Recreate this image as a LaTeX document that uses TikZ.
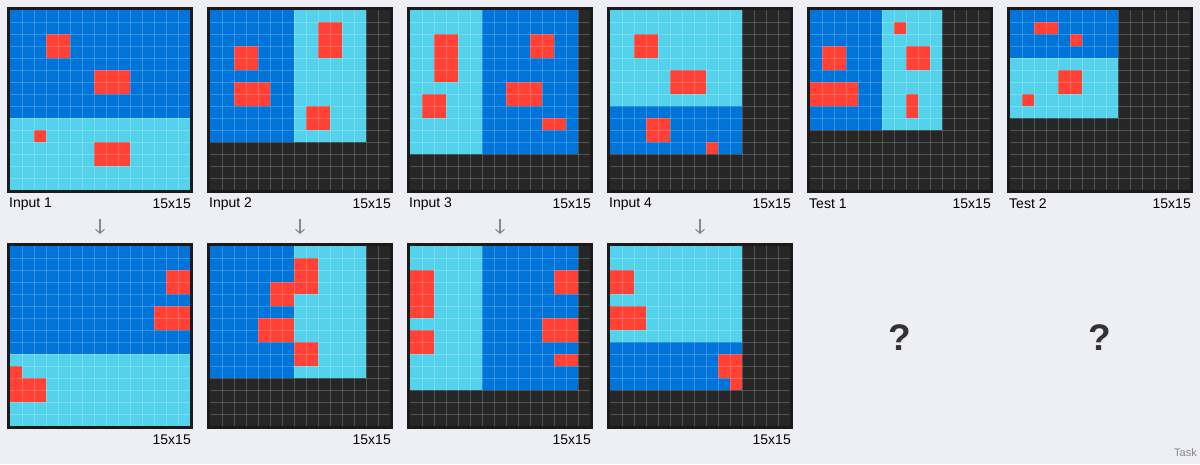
\documentclass[tikz,border=0pt]{standalone}
\usepackage{fontspec}
\setmainfont{Liberation Sans}
\usetikzlibrary{arrows.meta}
\definecolor{bgc}{HTML}{EEEEF5}
\definecolor{arcblue}{HTML}{0074D9}
\definecolor{arccyan}{HTML}{54D2EB}
\definecolor{arcred}{HTML}{FF4136}
\definecolor{arcdark}{HTML}{262626}
\definecolor{framec}{HTML}{1A1A1A}
\definecolor{arrowc}{HTML}{888888}
\definecolor{qc}{HTML}{333333}
\tikzset{
  gl/.style={white, opacity=0.2, line width=0.7pt},
  gframe/.style={framec, line width=2.6pt},
  lbl/.style={font=\fontsize{14pt}{16pt}\selectfont, text=black, inner sep=0pt},
  arr/.style={arrowc, line width=1.1pt, -{Straight Barb[length=4pt,width=9pt]}},
  qmark/.style={font=\bfseries\fontsize{37pt}{40pt}\selectfont, text=qc, inner sep=0pt, anchor=base},
}
% cell block: originx originy col row w h color
\newcommand\gblk[7]{\fill[#7] ({#1+12*#3},{#2+12*#4}) rectangle ++({12*#5},{12*#6});}
\newcommand\gdark[2]{\fill[arcdark] (#1,#2) rectangle ++(180,180);}
\newcommand\glines[2]{%
  \foreach \i in {1,...,14} {
    \draw[gl] ({#1+12*\i},#2) -- ++(0,180);
    \draw[gl] (#1,{#2+12*\i}) -- ++(180,0);
  }
  \draw[gframe] ({#1-1.3},{#2-1.3}) rectangle ++(182.6,182.6);
}
\begin{document}
\begin{tikzpicture}[x=1pt,y=-1pt]
\fill[bgc] (0,0) rectangle (1200,464);
\useasboundingbox (0,0) rectangle (1200,464);

% ---------- Input 1 ----------
\gblk{10}{10}{0}{0}{15}{9}{arcblue}
\gblk{10}{10}{0}{9}{15}{6}{arccyan}
\gblk{10}{10}{3}{2}{2}{2}{arcred}
\gblk{10}{10}{7}{5}{3}{2}{arcred}
\gblk{10}{10}{2}{10}{1}{1}{arcred}
\gblk{10}{10}{7}{11}{3}{2}{arcred}
\glines{10}{10}
% ---------- Output 1 ----------
\gblk{10}{246}{0}{0}{15}{9}{arcblue}
\gblk{10}{246}{0}{9}{15}{6}{arccyan}
\gblk{10}{246}{13}{2}{2}{2}{arcred}
\gblk{10}{246}{12}{5}{3}{2}{arcred}
\gblk{10}{246}{0}{10}{1}{1}{arcred}
\gblk{10}{246}{0}{11}{3}{2}{arcred}
\glines{10}{246}

% ---------- Input 2 ----------
\gdark{210}{10}
\gblk{210}{10}{0}{0}{7}{11}{arcblue}
\gblk{210}{10}{7}{0}{6}{11}{arccyan}
\gblk{210}{10}{2}{3}{2}{2}{arcred}
\gblk{210}{10}{2}{6}{3}{2}{arcred}
\gblk{210}{10}{9}{1}{2}{3}{arcred}
\gblk{210}{10}{8}{8}{2}{2}{arcred}
\glines{210}{10}
% ---------- Output 2 ----------
\gdark{210}{246}
\gblk{210}{246}{0}{0}{7}{11}{arcblue}
\gblk{210}{246}{7}{0}{6}{11}{arccyan}
\gblk{210}{246}{5}{3}{2}{2}{arcred}
\gblk{210}{246}{4}{6}{3}{2}{arcred}
\gblk{210}{246}{7}{1}{2}{3}{arcred}
\gblk{210}{246}{7}{8}{2}{2}{arcred}
\glines{210}{246}

% ---------- Input 3 ----------
\gdark{410}{10}
\gblk{410}{10}{0}{0}{6}{12}{arccyan}
\gblk{410}{10}{6}{0}{8}{12}{arcblue}
\gblk{410}{10}{2}{2}{2}{4}{arcred}
\gblk{410}{10}{1}{7}{2}{2}{arcred}
\gblk{410}{10}{10}{2}{2}{2}{arcred}
\gblk{410}{10}{8}{6}{3}{2}{arcred}
\gblk{410}{10}{11}{9}{2}{1}{arcred}
\glines{410}{10}
% ---------- Output 3 ----------
\gdark{410}{246}
\gblk{410}{246}{0}{0}{6}{12}{arccyan}
\gblk{410}{246}{6}{0}{8}{12}{arcblue}
\gblk{410}{246}{0}{2}{2}{4}{arcred}
\gblk{410}{246}{0}{7}{2}{2}{arcred}
\gblk{410}{246}{12}{2}{2}{2}{arcred}
\gblk{410}{246}{11}{6}{3}{2}{arcred}
\gblk{410}{246}{12}{9}{2}{1}{arcred}
\glines{410}{246}

% ---------- Input 4 ----------
\gdark{610}{10}
\gblk{610}{10}{0}{0}{11}{8}{arccyan}
\gblk{610}{10}{0}{8}{11}{4}{arcblue}
\gblk{610}{10}{2}{2}{2}{2}{arcred}
\gblk{610}{10}{5}{5}{3}{2}{arcred}
\gblk{610}{10}{3}{9}{2}{2}{arcred}
\gblk{610}{10}{8}{11}{1}{1}{arcred}
\glines{610}{10}
% ---------- Output 4 ----------
\gdark{610}{246}
\gblk{610}{246}{0}{0}{11}{8}{arccyan}
\gblk{610}{246}{0}{8}{11}{4}{arcblue}
\gblk{610}{246}{0}{2}{2}{2}{arcred}
\gblk{610}{246}{0}{5}{3}{2}{arcred}
\gblk{610}{246}{9}{9}{2}{2}{arcred}
\gblk{610}{246}{10}{11}{1}{1}{arcred}
\glines{610}{246}

% ---------- Test 1 ----------
\gdark{810}{10}
\gblk{810}{10}{0}{0}{6}{10}{arcblue}
\gblk{810}{10}{6}{0}{5}{10}{arccyan}
\gblk{810}{10}{1}{3}{2}{2}{arcred}
\gblk{810}{10}{0}{6}{4}{2}{arcred}
\gblk{810}{10}{7}{1}{1}{1}{arcred}
\gblk{810}{10}{8}{3}{2}{2}{arcred}
\gblk{810}{10}{8}{7}{1}{2}{arcred}
\glines{810}{10}

% ---------- Test 2 ----------
\gdark{1010}{10}
\gblk{1010}{10}{0}{0}{9}{4}{arcblue}
\gblk{1010}{10}{0}{4}{9}{5}{arccyan}
\gblk{1010}{10}{2}{1}{2}{1}{arcred}
\gblk{1010}{10}{5}{2}{1}{1}{arcred}
\gblk{1010}{10}{4}{5}{2}{2}{arcred}
\gblk{1010}{10}{1}{7}{1}{1}{arcred}
\glines{1010}{10}

% ---------- labels ----------
\node[lbl, anchor=west] (lin1) at (9,204) {Input 1};
\node[lbl, anchor=west] (lin2) at (209,204) {Input 2};
\node[lbl, anchor=west] (lin3) at (409,204) {Input 3};
\node[lbl, anchor=west] (lin4) at (609,204) {Input 4};
\node[lbl, anchor=west] (lte1) at (809,204) {Test 1};
\node[lbl, anchor=west] (lte2) at (1009,204) {Test 2};
\foreach \k/\nm in {0/a,1/b,2/c,3/d,4/e,5/f} {
  \node[lbl, anchor=east] (sz\nm) at ({191+200*\k},204) {15x15};
}
\foreach \k/\nm in {0/a,1/b,2/c,3/d} {
  \node[lbl, anchor=east] (osz\nm) at ({191+200*\k},440) {15x15};
  \coordinate (as\nm) at ({100+200*\k},219);
  \coordinate (ae\nm) at ({100+200*\k},234);
  \draw[arr] (as\nm) -- (ae\nm);
}
\node[qmark] (q1) at (900,350) {?};
\node[qmark] (q2) at (1100,350) {?};
\node[font=\fontsize{11pt}{13pt}\selectfont, text=arrowc, anchor=east, inner sep=0pt] (task) at (1197,453) {Task};
\end{tikzpicture}
\end{document}
